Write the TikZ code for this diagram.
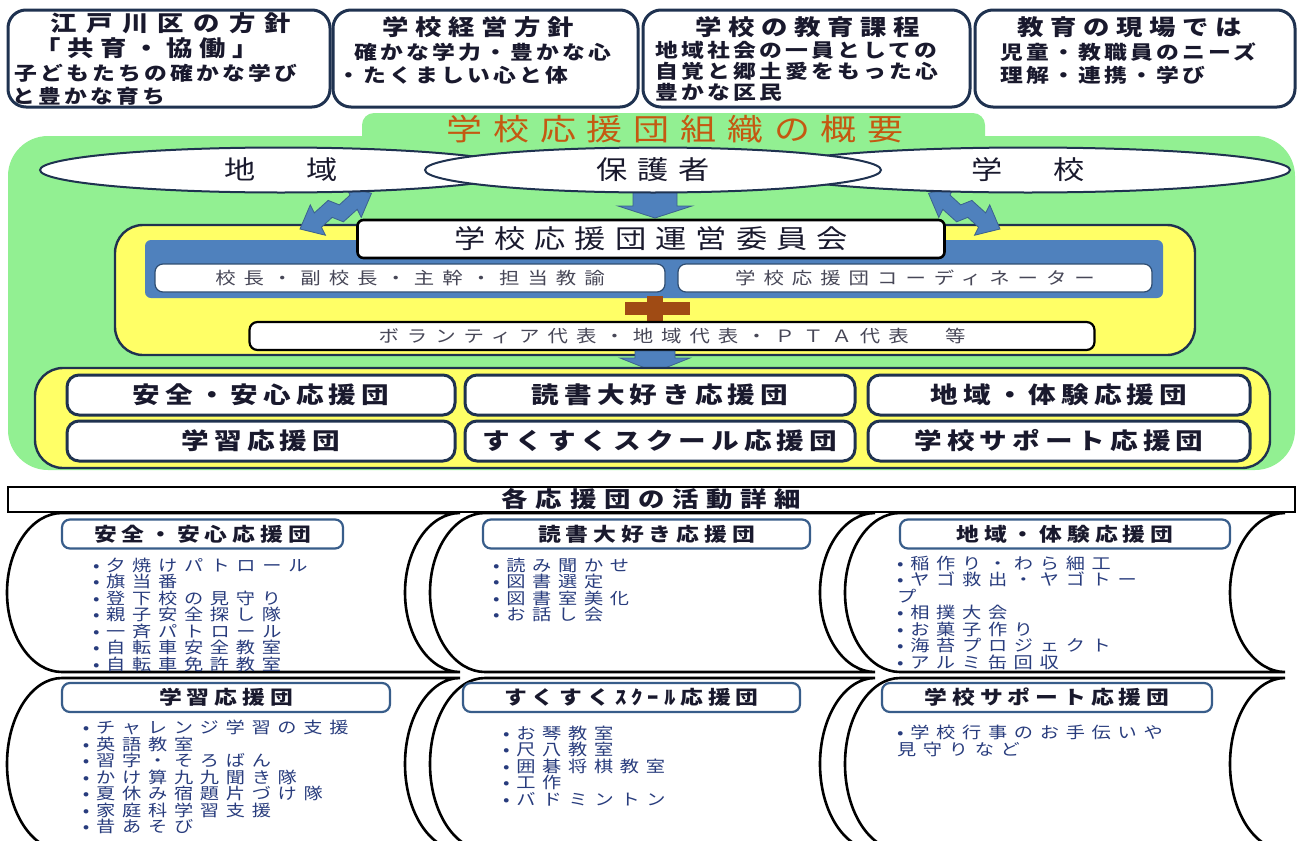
\documentclass[tikz,border=0pt]{standalone}
\usepackage{fontspec}
\usetikzlibrary{shapes.geometric}
\newfontfamily\jp[FakeStretch=1.2]{Noto Sans CJK JP}
\newcommand\fsr[3]{\jp\fontsize{#1}{#2}\selectfont\addfontfeature{LetterSpace=#3}}
\newcommand\fsb[3]{\jp\bfseries\fontsize{#1}{#2}\selectfont\addfontfeature{LetterSpace=#3}}
\definecolor{grn}{RGB}{146,240,146}
\definecolor{ylw}{RGB}{255,255,102}
\definecolor{blu}{RGB}{79,129,189}
\definecolor{nvy}{RGB}{31,50,80}
\definecolor{org}{RGB}{196,89,17}
\definecolor{brn}{RGB}{160,75,20}
\definecolor{ltx}{RGB}{40,60,125}
\definecolor{tbd}{RGB}{56,93,138}
\definecolor{dtx}{RGB}{25,25,45}
\newcommand\storedpanel[5]{%
 \draw[panel] ({#1+#2},#4) -- (#3,#4)
   .. controls ({#3-0.552*#2},#4) and ({#3-#2},{(#4+#5)/2-0.552*(#5-#4)/2}) .. ({#3-#2},{(#4+#5)/2})
   .. controls ({#3-#2},{(#4+#5)/2+0.552*(#5-#4)/2}) and ({#3-0.552*#2},#5) .. (#3,#5)
   -- ({#1+#2},#5)
   .. controls ({#1+#2-0.552*#2},#5) and (#1,{(#4+#5)/2+0.552*(#5-#4)/2}) .. (#1,{(#4+#5)/2})
   .. controls (#1,{(#4+#5)/2-0.552*(#5-#4)/2}) and ({#1+#2-0.552*#2},#4) .. ({#1+#2},#4) -- cycle;}
\newcommand\boltarrow{%
 \filldraw[fill=blu, draw=blu!75!black, line width=0.4pt]
  (300,229) -- (310.28,204.86) -- (314.30,212.91) -- (328.16,200.39) -- (339.33,204.86) -- (350.06,195.03)
  -- (346.04,186.98) -- (371.52,193.24) -- (361.24,217.38) -- (357.22,209.33) -- (343.36,221.85)
  -- (332.19,217.38) -- (321.46,227.21) -- (325.48,235.26) -- cycle;}
\begin{document}
\begin{tikzpicture}[x=0.5pt,y=-0.5pt,
 txt/.style={inner sep=0pt, outer sep=0pt},
 topbox/.style={draw=nvy, line width=1.5pt, rounded corners=9pt, fill=white},
 topttl/.style={txt, font=\fsb{11}{13}{30}, text=dtx},
 topbody/.style={txt, font=\fsb{9.5}{11}{17}, text=dtx},
 bigttl/.style={txt, font=\fsr{15}{17}{36}, text=org},
 ell/.style={ellipse, draw=nvy, line width=1pt, fill=white, inner sep=0pt, font=\fsr{13}{15}{38}, text=dtx},
 cmbox/.style={draw=black, line width=1.3pt, fill=white, rounded corners=3pt, inner sep=0pt, font=\fsr{13}{15}{35}, text=dtx},
 wbox/.style={draw=blu!60!black, line width=0.6pt, fill=white, rounded corners=4pt, inner sep=0pt, font=\fsr{8.5}{10}{47}, text=dtx!80},
 vbox/.style={draw=black, line width=1.1pt, fill=white, rounded corners=4pt, inner sep=0pt, font=\fsr{8.5}{10}{47}, text=dtx!80},
 rbox/.style={draw=nvy, line width=1.5pt, fill=white, rounded corners=6pt, inner sep=0pt, minimum height=20pt, font=\fsb{11.5}{13}{22}, text=dtx},
 hbox/.style={draw=black, line width=1.2pt, fill=white, inner sep=0pt, font=\fsb{11}{13}{35}, text=dtx},
 panel/.style={draw=black, line width=1.3pt, fill=white},
 ptbox/.style={draw=tbd, line width=1.1pt, fill=white, rounded corners=4pt, inner sep=0pt, minimum height=14.5pt, font=\fsb{9.5}{11}{26}, text=dtx},
 lst/.style={txt, anchor=north west, align=left, font=\fsr{8}{8.25}{42}, text=ltx}
]
\clip (0,0) rectangle (1298,841);
\fill[white] (0,0) rectangle (1298,841);
% top boxes
\draw[topbox] (8,10) rectangle (330,107);
\draw[topbox] (333,10) rectangle (638,107);
\draw[topbox] (643,10) rectangle (970,107);
\draw[topbox] (975,10) rectangle (1295,107);
\node[topttl, font=\fsb{11}{13}{42}] (b1t) at (171,23) {江戸川区の方針};
\node[topttl] (b1s) at (147,48) {「共育・協働」};
\node[topbody, anchor=west] (b1a) at (14,73) {子どもたちの確かな学び};
\node[topbody, anchor=west] (b1b) at (12,96) {と豊かな育ち};
\node[topttl] (b2t) at (478,27) {学校経営方針};
\node[topbody] (b2a) at (483,52) {確かな学力・豊かな心};
\node[topbody, anchor=west] (b2b) at (337,75) {・たくましい心と体};
\node[topttl] (b3t) at (808,27) {学校の教育課程};
\node[topbody, anchor=west] (b3a) at (655,50) {地域社会の一員としての};
\node[topbody, anchor=west] (b3b) at (655,71) {自覚と郷土愛をもった心};
\node[topbody, anchor=west] (b3c) at (655,92) {豊かな区民};
\node[topttl] (b4t) at (1130,27) {教育の現場では};
\node[topbody, anchor=west] (b4a) at (1000,52) {児童・教職員のニーズ};
\node[topbody, anchor=west] (b4b) at (1000,75) {理解・連携・学び};
% green area
\fill[grn, rounded corners=6pt] (362,113) rectangle (985,160);
\fill[grn, rounded corners=20pt] (8,136) rectangle (1295,470);
\node[bigttl] (ttl) at (675,129) {学校応援団組織の概要};
% upper yellow
\draw[fill=ylw, draw=nvy, line width=1.2pt, rounded corners=14pt] (115,225) rectangle (1195,355);
\fill[blu, rounded corners=3pt] (145,240) rectangle (1163,298);
\node[wbox, minimum width=255pt, minimum height=14pt] (k1) at (410,278) {校長・副校長・主幹・担当教諭};
\node[wbox, minimum width=237pt, minimum height=14pt] (k2) at (915,278) {学校応援団コーディネーター};
% arrows
\boltarrow
\begin{scope}[shift={(1300,0)}, xscale=-1]
\boltarrow
\end{scope}
\filldraw[fill=blu, draw=blu!75!black, line width=0.4pt] (633,190) -- (677,190) -- (677,206) -- (692,206) -- (655,218) -- (618,206) -- (633,206) -- cycle;
\node[cmbox, minimum width=293.5pt, minimum height=19pt] (cm) at (651,239) {学校応援団運営委員会};
% ellipses
\node[ell, minimum width=241pt, minimum height=22.5pt] (e1) at (281,170) {地　域};
\node[ell, minimum width=262pt, minimum height=22.5pt] (e3) at (1028,170) {学　校};
\node[ell, minimum width=228pt, minimum height=22.5pt] (e2) at (653,170) {保護者};
% plus
\fill[brn] (625,302) rectangle (690,315);
\fill[brn] (647,296) rectangle (663,322);
\node[vbox, minimum width=422.5pt, minimum height=14pt] (vb) at (672,336) {ボランティア代表・地域代表・ＰＴＡ代表　等};
\filldraw[fill=blu, draw=blu!75!black, line width=0.4pt] (635,351) -- (675,351) -- (675,358) -- (690,358) -- (655,372) -- (620,358) -- (635,358) -- cycle;
% lower yellow
\draw[fill=ylw, draw=nvy, line width=1.2pt, rounded corners=14pt] (35,368) rectangle (1270,468);
\node[rbox, minimum width=194pt] (r1) at (261,395) {安全・安心応援団};
\node[rbox, minimum width=195pt] (r2) at (660,395) {読書大好き応援団};
\node[rbox, minimum width=191pt] (r3) at (1059,395) {地域・体験応援団};
\node[rbox, minimum width=194pt] (r4) at (261,441) {学習応援団};
\node[rbox, minimum width=195pt] (r5) at (660,441) {すくすくスクール応援団};
\node[rbox, minimum width=191pt] (r6) at (1059,441) {学校サポート応援団};
% detail panels
\storedpanel{7}{55}{460}{513}{672}
\storedpanel{430}{55}{875}{513}{672}
\storedpanel{845}{55}{1285}{513}{672}
\storedpanel{7}{55}{460}{678}{850}
\storedpanel{430}{55}{875}{678}{850}
\storedpanel{845}{55}{1285}{678}{850}
\node[hbox, minimum width=643.5pt, minimum height=12.5pt] (hd) at (651.5,499.5) {各応援団の活動詳細};
\node[ptbox, minimum width=140.5pt] (p1t) at (202.5,534) {安全・安心応援団};
\node[ptbox, minimum width=163.5pt] (p2t) at (646.5,534) {読書大好き応援団};
\node[ptbox, minimum width=165pt] (p3t) at (1065,534) {地域・体験応援団};
\node[ptbox, minimum width=164pt] (p4t) at (226,697.5) {学習応援団};
\node[ptbox, minimum width=168.5pt] (p5t) at (631.5,697.5) {すくすくｽｸｰﾙ応援団};
\node[ptbox, minimum width=165pt] (p6t) at (1047,697.5) {学校サポート応援団};
\node[lst] (l1) at (93,558) {•夕焼けパトロール\\•旗当番\\•登下校の見守り\\•親子安全探し隊\\•一斉パトロール\\•自転車安全教室\\•自転車免許教室};
\node[lst] (l2) at (493,558) {•読み聞かせ\\•図書選定\\•図書室美化\\•お話し会};
\node[lst] (l3) at (897,556) {•稲作り・わら細工\\•ヤゴ救出・ヤゴトー\\プ\\•相撲大会\\•お菓子作り\\•海苔プロジェクト\\•アルミ缶回収};
\node[lst] (l4) at (83,720) {•チャレンジ学習の支援\\•英語教室\\•習字・そろばん\\•かけ算九九聞き隊\\•夏休み宿題片づけ隊\\•家庭科学習支援\\•昔あそび};
\node[lst] (l5) at (503,726) {•お琴教室\\•尺八教室\\•囲碁将棋教室\\•工作\\•バドミントン};
\node[lst] (l6) at (897,725) {•学校行事のお手伝いや\\見守りなど};
\end{tikzpicture}
\end{document}
